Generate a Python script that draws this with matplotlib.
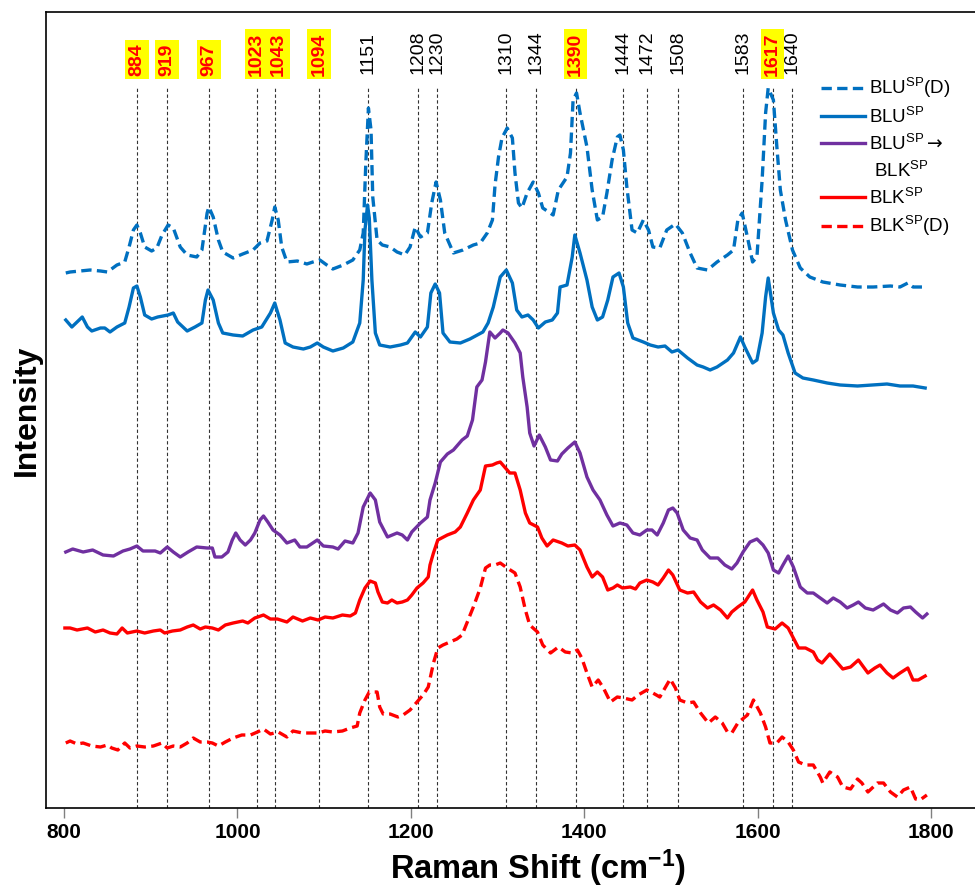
import matplotlib
matplotlib.use("Agg")
import matplotlib.pyplot as plt
from matplotlib import font_manager
from matplotlib.lines import Line2D

plt.rcParams['font.family'] = ['Liberation Sans', 'DejaVu Sans']
plt.rcParams['mathtext.fontset'] = 'custom'
plt.rcParams['mathtext.rm'] = 'Liberation Sans'
plt.rcParams['mathtext.it'] = 'Liberation Sans:italic'
plt.rcParams['mathtext.bf'] = 'Liberation Sans:bold'
plt.rcParams['mathtext.sf'] = 'DejaVu Sans'

# ---------------- data (Raman shift in cm-1, intensity in arbitrary units) -------------
blu_d_x = [802, 807, 818, 830, 842, 850, 861, 870, 875, 880, 884, 888, 893, 901, 907, 913, 920, 926,
           934, 942, 953, 959, 965, 967, 972, 978, 983, 995, 1006, 1018, 1026, 1034, 1040, 1043, 1047,
           1051, 1057, 1069, 1080, 1087, 1095, 1103, 1110, 1122, 1133, 1141, 1145, 1148, 1151, 1154,
           1156, 1161, 1167, 1176, 1184, 1193, 1199, 1205, 1211, 1219, 1224, 1229, 1234, 1239, 1249,
           1260, 1272, 1280, 1288, 1294, 1297, 1301, 1305, 1311, 1317, 1320, 1324, 1328, 1334, 1341,
           1347, 1352, 1364, 1370, 1380, 1384, 1387, 1391, 1395, 1399, 1403, 1409, 1415, 1421, 1426,
           1432, 1438, 1441, 1445, 1449, 1455, 1461, 1468, 1474, 1479, 1487, 1495, 1505, 1513, 1522,
           1530, 1542, 1553, 1565, 1572, 1577, 1582, 1588, 1594, 1599, 1605, 1609, 1612, 1618, 1622,
           1626, 1632, 1640, 1649, 1660, 1675, 1695, 1715, 1733, 1753, 1764, 1773, 1779, 1791]
blu_d_y = [535, 536, 537, 538, 537, 536, 543, 546, 561, 578, 583, 575, 561, 557, 560, 573, 583, 580,
           561, 553, 551, 558, 595, 601, 591, 568, 556, 550, 554, 558, 565, 567, 588, 601, 588,
           561, 546, 547, 544, 546, 548, 543, 539, 543, 548, 558, 575, 645, 700, 678,
           611, 568, 563, 561, 556, 553, 561, 581, 571, 575, 605, 626, 608, 575, 555,
           558, 563, 565, 575, 588, 623, 651, 670, 680, 670, 635, 605, 600, 615, 626,
           615, 600, 593, 618, 631, 655, 708, 715, 695, 678, 661, 618, 588, 591, 615,
           648, 671, 673, 658, 621, 578, 575, 588, 578, 561, 560, 578, 584, 575, 555,
           540, 538, 546, 553, 558, 588, 595, 571, 546, 551, 628, 695, 720, 708, 661,
           618, 588, 558, 540, 531, 526, 523, 521, 521, 522, 521, 525, 521, 521]

blu_x = [802, 809, 815, 821, 827, 832, 842, 847, 853, 861, 870, 875, 880, 884, 888, 893, 901, 908,
         920, 926, 931, 942, 951, 959, 963, 966, 972, 978, 983, 995, 1006, 1018, 1028, 1038, 1043,
         1049, 1055, 1064, 1076, 1084, 1092, 1099, 1110, 1122, 1133, 1141, 1145, 1147, 1150, 1152,
         1155, 1159, 1164, 1176, 1188, 1196, 1205, 1211, 1219, 1223, 1228, 1233, 1237, 1245, 1257,
         1268, 1283, 1289, 1295, 1303, 1310, 1317, 1322, 1328, 1335, 1341, 1347, 1355, 1363, 1369,
         1372, 1380, 1386, 1389, 1395, 1403, 1409, 1415, 1421, 1427, 1433, 1440, 1445, 1450, 1456,
         1468, 1476, 1485, 1493, 1501, 1508, 1519, 1530, 1537, 1545, 1553, 1565, 1572, 1580, 1585,
         1594, 1599, 1605, 1609, 1612, 1618, 1624, 1629, 1635, 1643, 1652, 1664, 1680, 1695, 1715,
         1733, 1749, 1764, 1779, 1793]
blu_y = [488, 481, 486, 491, 481, 477, 480, 480, 476, 481, 485, 501, 520, 522, 511, 493, 489, 491,
         493, 495, 486, 477, 481, 485, 508, 518, 508, 485, 475, 473, 472, 478, 481, 495, 505,
         488, 465, 461, 459, 461, 465, 461, 457, 460, 466, 485, 528, 578, 603, 590,
         528, 475, 463, 461, 463, 465, 476, 471, 481, 515, 524, 515, 475, 466, 465,
         469, 476, 485, 501, 531, 538, 525, 498, 491, 493, 488, 480, 486, 488, 495,
         521, 523, 551, 573, 555, 528, 501, 488, 491, 508, 531, 535, 521, 485, 470,
         466, 463, 461, 462, 456, 458, 450, 443, 441, 438, 441, 448, 455, 471, 461,
         445, 448, 475, 511, 530, 495, 478, 473, 455, 435, 430, 428, 425, 423, 422,
         423, 424, 422, 422, 420]

mix_x = [802, 810, 822, 833, 845, 857, 868, 876, 884, 891, 905, 911, 919, 926, 934, 943, 953, 965,
         971, 974, 982, 989, 994, 998, 1003, 1009, 1015, 1020, 1026, 1030, 1035, 1041, 1049, 1057,
         1066, 1072, 1080, 1092, 1099, 1110, 1116, 1124, 1133, 1139, 1145, 1153, 1159, 1164, 1173,
         1184, 1190, 1196, 1201, 1211, 1219, 1222, 1228, 1234, 1242, 1249, 1259, 1265, 1271, 1276,
         1282, 1286, 1291, 1297, 1303, 1306, 1312, 1320, 1326, 1329, 1334, 1337, 1342, 1348, 1355,
         1361, 1369, 1374, 1381, 1389, 1395, 1403, 1410, 1418, 1426, 1433, 1441, 1449, 1456, 1464,
         1472, 1478, 1484, 1491, 1497, 1502, 1507, 1514, 1522, 1530, 1536, 1545, 1554, 1562, 1570,
         1576, 1583, 1591, 1599, 1606, 1612, 1618, 1624, 1629, 1635, 1641, 1649, 1657, 1664, 1672,
         1680, 1687, 1695, 1703, 1710, 1716, 1724, 1733, 1739, 1745, 1753, 1761, 1768, 1776, 1782,
         1790, 1795]
mix_y = [256, 259, 256, 258, 253, 252, 257, 259, 262, 257, 257, 255, 261, 256, 251, 256, 261, 260,
         260, 251, 251, 256, 268, 275, 268, 263, 268, 275, 288, 292, 286, 278, 273, 265,
         268, 261, 261, 268, 262, 261, 259, 267, 265, 275, 301, 315, 308, 286, 271,
         275, 273, 268, 276, 285, 291, 308, 325, 346, 354, 358, 368, 372, 388, 421,
         428, 446, 476, 470, 475, 478, 475, 465, 455, 431, 401, 375, 362, 373, 361,
         348, 347, 354, 360, 366, 355, 331, 318, 308, 293, 282, 285, 283, 275, 273,
         278, 278, 273, 285, 298, 300, 295, 278, 270, 268, 258, 250, 250, 243, 239,
         245, 256, 266, 269, 263, 255, 238, 235, 243, 252, 241, 221, 215, 215, 210,
         205, 210, 206, 200, 203, 206, 200, 198, 201, 204, 198, 195, 200, 201, 196,
         190, 194]

blk_x = [801, 807, 815, 827, 836, 845, 853, 861, 867, 873, 884, 893, 903, 911, 916, 925, 934, 942,
         949, 957, 963, 971, 978, 986, 995, 1006, 1012, 1020, 1030, 1038, 1046, 1057, 1064, 1075,
         1084, 1093, 1101, 1110, 1121, 1130, 1136, 1141, 1147, 1153, 1159, 1162, 1167, 1173, 1178,
         1184, 1190, 1196, 1201, 1207, 1214, 1220, 1222, 1226, 1231, 1242, 1251, 1257, 1265, 1272,
         1280, 1286, 1294, 1299, 1303, 1309, 1314, 1320, 1326, 1332, 1337, 1346, 1351, 1357, 1364,
         1374, 1381, 1389, 1395, 1403, 1409, 1415, 1421, 1427, 1433, 1438, 1444, 1453, 1459, 1464,
         1472, 1479, 1485, 1491, 1497, 1502, 1510, 1519, 1526, 1534, 1542, 1549, 1557, 1565, 1570,
         1577, 1585, 1594, 1599, 1606, 1611, 1620, 1628, 1635, 1641, 1647, 1655, 1664, 1669, 1674,
         1680, 1683, 1692, 1698, 1707, 1716, 1722, 1727, 1735, 1741, 1749, 1756, 1764, 1773, 1779,
         1785, 1793]
blk_y = [180, 180, 178, 180, 176, 178, 175, 174, 180, 175, 177, 175, 177, 178, 175, 177, 178, 181,
         183, 179, 181, 180, 178, 183, 185, 187, 185, 190, 193, 189, 189, 186, 191, 187,
         190, 188, 191, 190, 193, 192, 195, 208, 220, 227, 225, 216, 206, 205, 208,
         205, 206, 208, 213, 220, 225, 231, 243, 255, 268, 273, 276, 281, 295, 308,
         318, 342, 343, 345, 346, 340, 335, 335, 318, 295, 285, 281, 270, 262, 268,
         265, 262, 263, 258, 241, 231, 236, 231, 218, 220, 223, 220, 221, 219, 225,
         228, 226, 223, 230, 238, 233, 218, 215, 216, 206, 200, 203, 198, 190, 196,
         201, 206, 218, 208, 196, 181, 179, 185, 180, 170, 160, 160, 156, 148, 145,
         151, 154, 145, 139, 141, 148, 141, 135, 140, 143, 135, 130, 135, 140, 128,
         128, 132]

blk_d_x = [802, 807, 815, 822, 832, 842, 850, 855, 862, 870, 876, 884, 893, 903, 913, 919, 926, 934,
           942, 949, 957, 965, 971, 978, 986, 995, 1005, 1015, 1023, 1030, 1038, 1047, 1057, 1064,
           1075, 1084, 1093, 1101, 1110, 1121, 1130, 1138, 1141, 1147, 1152, 1161, 1164, 1168, 1176,
           1185, 1191, 1199, 1207, 1214, 1220, 1226, 1231, 1237, 1245, 1253, 1259, 1265, 1272, 1280,
           1286, 1291, 1297, 1303, 1311, 1320, 1326, 1332, 1337, 1346, 1352, 1361, 1370, 1378, 1386,
           1392, 1397, 1403, 1409, 1416, 1422, 1430, 1438, 1445, 1455, 1462, 1472, 1479, 1487, 1493,
           1499, 1505, 1510, 1519, 1526, 1534, 1543, 1551, 1559, 1565, 1570, 1577, 1588, 1595, 1603,
           1609, 1614, 1622, 1628, 1635, 1641, 1647, 1655, 1664, 1672, 1675, 1683, 1692, 1698, 1707,
           1715, 1720, 1727, 1738, 1745, 1753, 1761, 1768, 1776, 1782, 1787, 1795]
blk_d_y = [65, 67, 64, 65, 62, 61, 63, 60, 58, 65, 60, 62, 61, 62, 65, 60, 62, 61,
           65, 70, 66, 66, 65, 62, 66, 70, 73, 73, 76, 79, 74, 76, 71, 77,
           75, 75, 75, 77, 76, 77, 80, 82, 95, 108, 116, 116, 101, 94, 94,
           91, 93, 98, 106, 113, 121, 145, 160, 163, 166, 169, 173, 186, 201, 220,
           240, 243, 243, 245, 240, 235, 221, 198, 183, 176, 163, 155, 161, 156, 155,
           158, 150, 135, 121, 128, 120, 106, 111, 110, 108, 113, 118, 115, 111, 120,
           129, 120, 108, 105, 106, 95, 85, 91, 85, 76, 75, 85, 93, 108, 95,
           81, 65, 65, 71, 66, 58, 46, 43, 43, 31, 25, 36, 31, 21, 19,
           29, 25, 16, 25, 25, 16, 11, 18, 21, 9, 8, 13]

peaks = [884, 919, 967, 1023, 1043, 1094, 1151, 1208, 1230, 1310, 1344, 1390,
         1444, 1472, 1508, 1583, 1617, 1640]
highlighted = [884, 919, 967, 1023, 1043, 1094, 1390, 1617]

series_labels = [r'BLU$^{\mathrm{SP}}$(D)', r'BLU$^{\mathrm{SP}}$',
                 r'BLU$^{\mathrm{SP}}\mathsf{\rightarrow}$',
                 r' BLK$^{\mathrm{SP}}$', r'BLK$^{\mathrm{SP}}$', r'BLK$^{\mathrm{SP}}$(D)']
xticks = [800, 1000, 1200, 1400, 1600, 1800]

# ---------------- styling ----------------
BLUE = '#0070C0'
PURPLE = '#7030A0'
RED = '#FF0000'
LW = 2.4
DASH = (0, (3.1, 1.6))

names = {f.name for f in font_manager.fontManager.ttflist}
if 'Liberation Sans Narrow' in names:
    peak_family, peak_size = ['Liberation Sans Narrow', 'Liberation Sans'], 17
else:
    peak_family, peak_size = ['Liberation Sans', 'DejaVu Sans'], 14

fig = plt.figure(figsize=(9.75, 8.88), dpi=100)
ax = fig.add_axes([46 / 975, 80 / 888, 939 / 975, 796 / 888])
ax.set_xlim(779.2, 1862)
ax.set_ylim(0, 796)

# reference lines
ax.vlines(peaks, 0, 720, colors='#333333', linestyles=(0, (3, 2.2)), linewidth=0.8, zorder=1)

# spectra
h1, = ax.plot(blu_d_x, blu_d_y, color=BLUE, lw=LW, ls=DASH, zorder=3)
h2, = ax.plot(blu_x, blu_y, color=BLUE, lw=LW, zorder=3)
h3, = ax.plot(mix_x, mix_y, color=PURPLE, lw=LW, zorder=3)
h4, = ax.plot(blk_x, blk_y, color=RED, lw=LW, zorder=3)
h5, = ax.plot(blk_d_x, blk_d_y, color=RED, lw=LW, ls=DASH, zorder=3)
blank = Line2D([], [], color='none')

# peak labels
nudge = {1023: -1, 1043: 4}
for p in peaks:
    if p in highlighted:
        ax.text(p + nudge.get(p, 0), 732, str(p), rotation=90, ha='center', va='bottom',
                fontsize=peak_size, family=peak_family, fontweight='bold', color=RED,
                bbox=dict(facecolor='#FFFF00', edgecolor='none', pad=2.4), zorder=4)
    else:
        ax.text(p + nudge.get(p, 0), 734, str(p), rotation=90, ha='center', va='bottom',
                fontsize=peak_size, family=peak_family, color='black', zorder=4)

# axes styling
for s in ['left', 'top', 'bottom']:
    ax.spines[s].set_linewidth(1.2)
    ax.spines[s].set_color('black')
ax.spines['right'].set_visible(False)
ax.set_yticks([])
ax.set_xticks(xticks)
ax.set_xticklabels([str(t) for t in xticks], fontsize=15, fontweight='bold')
ax.tick_params(axis='x', direction='out', length=7, width=1.0, color='#808080', pad=4)

ax.set_xlabel(r'Raman Shift (cm$^{\mathbf{-1}}$)', fontsize=23.5, fontweight='bold')
ax.xaxis.set_label_coords(0.524, -0.049)
ax.set_ylabel('Intensity', fontsize=23, fontweight='bold')
ax.yaxis.set_label_coords(-0.004, 0.5)

leg = ax.legend([h1, h2, h3, blank, h4, h5], series_labels,
                loc='upper left', bbox_to_anchor=(821 / 975, 1 - 76 / 888),
                bbox_transform=fig.transFigure, frameon=False, fontsize=13.5,
                handlelength=2.35, handletextpad=0.22, borderpad=0, borderaxespad=0,
                labelspacing=0.36)

fig.savefig('out.png', dpi=100)
